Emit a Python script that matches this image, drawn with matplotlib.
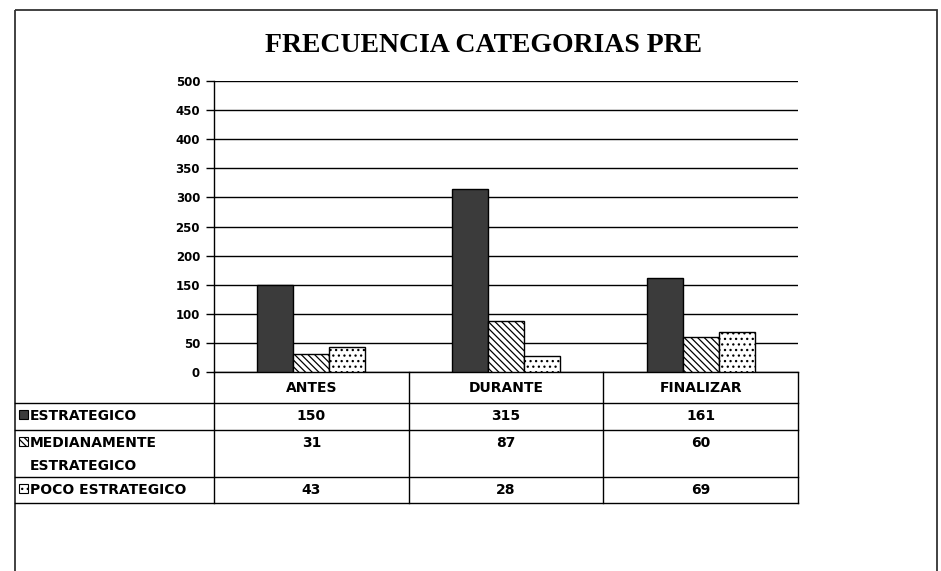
import numpy as np
import matplotlib.pyplot as plt
from matplotlib.patches import Rectangle

categorias = ['ANTES', 'DURANTE', 'FINALIZAR']
series = ['ESTRATEGICO', 'MEDIANAMENTE\nESTRATEGICO', 'POCO ESTRATEGICO']
estrategico = [150, 315, 161]
medianamente = [31, 87, 60]
poco = [43, 28, 69]
yticks = [0, 50, 100, 150, 200, 250, 300, 350, 400, 450, 500]

plt.rcParams['font.family'] = 'DejaVu Sans'
plt.rcParams['font.weight'] = 'bold'
plt.rcParams['hatch.linewidth'] = 0.9

W, H = 941, 571
fig = plt.figure(figsize=(W / 100, H / 100), dpi=100)

# plot area in pixels (from top-left)
L, R, T, B = 214, 798, 81, 372
ax = fig.add_axes([L / W, 1 - B / H, (R - L) / W, (B - T) / H])

x = np.arange(len(categorias))
w = 0.185
estilos = [
    dict(facecolor='#3b3b3b', hatch=None),
    dict(facecolor='white', hatch='\\\\\\\\\\'),
    dict(facecolor='white', hatch='...'),
]
for i, vals in enumerate([estrategico, medianamente, poco]):
    ax.bar(x + (i - 1) * w, vals, w, edgecolor='black', linewidth=1, zorder=3, **estilos[i])

ax.set_xlim(-0.5, len(categorias) - 0.5)
ax.set_ylim(0, 500)
ax.set_yticks(yticks)
ax.set_xticks([])
ax.yaxis.grid(True, color='black', linewidth=1)
ax.set_axisbelow(True)
for s in ['top', 'right']:
    ax.spines[s].set_visible(False)
ax.spines['left'].set_linewidth(1)
ax.spines['bottom'].set_linewidth(1)
ax.tick_params(axis='y', length=6, width=1, labelsize=8.5, pad=4)
for lbl in ax.get_yticklabels():
    lbl.set_fontweight('bold')

# overlay in pixel coordinates for table, title and frame
ov = fig.add_axes([0, 0, 1, 1], zorder=5)
ov.set_xlim(0, W)
ov.set_ylim(H, 0)
ov.axis('off')
ov.patch.set_alpha(0)

ov.add_patch(Rectangle((15, 10), 922, 600, fill=False, edgecolor='#333333', linewidth=1.3))
ov.text(484, 45, 'FRECUENCIA CATEGORIAS PRE', family='Liberation Serif',
        fontsize=20, fontweight='bold', ha='center', va='center')

# data table
col = [L + i * (R - L) / len(categorias) for i in range(len(categorias) + 1)]
filas = [372, 403, 430, 477, 503]
for y in filas[1:]:
    ov.plot([15, R], [y, y], color='black', lw=1)
for cx in col:
    ov.plot([cx, cx], [filas[0], filas[-1]], color='black', lw=1)

for j, c in enumerate(categorias):
    ov.text((col[j] + col[j + 1]) / 2, (filas[0] + filas[1]) / 2 + 1, c,
            fontsize=10, ha='center', va='center', fontweight='bold')

for i, (nombre, vals) in enumerate(zip(series, [estrategico, medianamente, poco])):
    ytop = filas[i + 1] + 6
    ov.text(30, ytop, nombre, fontsize=10, ha='left', va='top',
            fontweight='bold', linespacing=1.8)
    ov.add_patch(Rectangle((19, ytop + 1), 9, 9, edgecolor='black', lw=0.8, **estilos[i]))
    for j, v in enumerate(vals):
        ov.text((col[j] + col[j + 1]) / 2, ytop, str(v), fontsize=10,
                ha='center', va='top', fontweight='bold')

plt.savefig('out.png', dpi=100)
